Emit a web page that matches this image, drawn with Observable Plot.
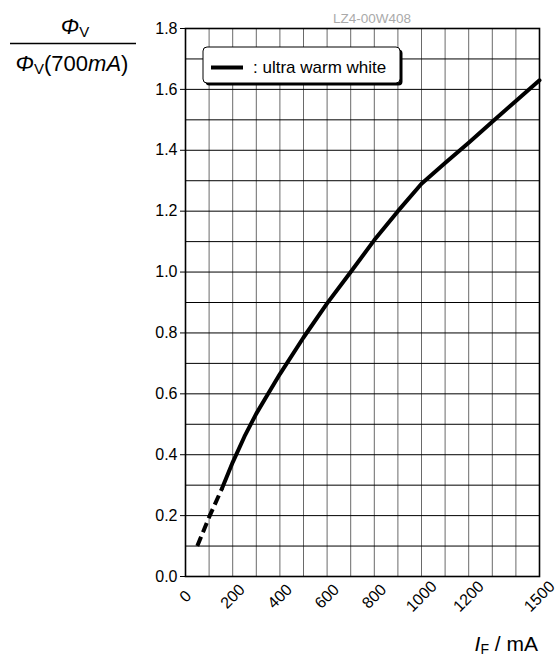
<!DOCTYPE html>
<html>
<head>
<meta charset="utf-8">
<script src="https://cdn.jsdelivr.net/npm/d3@7"></script>
<script src="https://cdn.jsdelivr.net/npm/@observablehq/plot@0.6"></script>
<style>
  html, body { margin: 0; padding: 0; background: #fff; }
  #chart svg { display: block; }
</style>
</head>
<body>
<div id="chart"></div>
<script>
// ---- data ----
const dashCurrent = [50, 100, 155];
const dashFlux    = [0.10, 0.195, 0.29];
const solidCurrent = [155, 200, 250, 300, 350, 400, 500, 600, 700, 800, 900, 1000, 1100, 1200, 1300, 1400, 1500];
const solidFlux    = [0.29, 0.375, 0.46, 0.535, 0.60, 0.665, 0.785, 0.897, 1.00, 1.105, 1.20, 1.29, 1.358, 1.425, 1.494, 1.562, 1.63];
const xTickLabels = [0, 200, 400, 600, 800, 1000, 1200, 1500];
const yTickLabels = [0, 0.2, 0.4, 0.6, 0.8, 1.0, 1.2, 1.4, 1.6, 1.8];
const xGridLines = [0, 100, 200, 300, 400, 500, 600, 700, 800, 900, 1000, 1100, 1200, 1300, 1400, 1500];
const yGridLines = [0, 0.1, 0.2, 0.3, 0.4, 0.5, 0.6, 0.7, 0.8, 0.9, 1.0, 1.1, 1.2, 1.3, 1.4, 1.5, 1.6, 1.7, 1.8];
const seriesName = ": ultra warm white";
const chartTitle = "LZ4-00W408";

const dashData = dashCurrent.map((x, i) => ({x, y: dashFlux[i]}));
const solidData = solidCurrent.map((x, i) => ({x, y: solidFlux[i]}));

const font = "'Liberation Sans', Arial, Helvetica, sans-serif";

const chart = Plot.plot({
  width: 559,
  height: 659,
  marginLeft: 185,
  marginRight: 20,
  marginTop: 28,
  marginBottom: 83,
  x: {domain: [0, 1500]},
  y: {domain: [0, 1.8]},
  style: {fontFamily: font, fontSize: "16px", background: "white", color: "black"},
  marks: [
    Plot.gridX(xGridLines, {stroke: "#6a6a6a", strokeOpacity: 1, strokeWidth: 1}),
    Plot.gridY(yGridLines, {stroke: "#000", strokeOpacity: 1, strokeWidth: 1}),
    Plot.axisY(yTickLabels, {tickFormat: d => d.toFixed(1), tickSize: 5, tickPadding: 3, fontSize: 16, label: null}),
    Plot.axisX(xTickLabels, {tickSize: 0, tickPadding: 20, tickRotate: -45, textAnchor: "middle", lineAnchor: "middle", fontSize: 16, label: null, tickFormat: d => String(d)}),
    Plot.line(dashData, {x: "x", y: "y", stroke: "black", strokeWidth: 4, strokeDasharray: "10,5", strokeLinecap: "butt"}),
    Plot.line(solidData, {x: "x", y: "y", stroke: "black", strokeWidth: 4, strokeLinejoin: "round"}),
    Plot.frame({stroke: "black", strokeWidth: 1.6})
  ]
});

document.getElementById("chart").appendChild(chart);

const svg = d3.select(chart);

// title
svg.append("text")
  .attr("x", 372).attr("y", 23)
  .attr("text-anchor", "middle")
  .attr("font-family", font).attr("font-size", 13.5)
  .attr("fill", "#aaaaaa")
  .text(chartTitle);

// legend
const lg = svg.append("g").attr("text-anchor", "start");
lg.append("rect").attr("x", 205.5).attr("y", 49.5).attr("width", 197).attr("height", 36).attr("rx", 4).attr("fill", "black");
lg.append("rect").attr("x", 203).attr("y", 47).attr("width", 197).attr("height", 36).attr("rx", 4)
  .attr("fill", "white").attr("stroke", "black").attr("stroke-width", 1);
lg.append("line").attr("x1", 211).attr("x2", 243).attr("y1", 67.5).attr("y2", 67.5)
  .attr("stroke", "black").attr("stroke-width", 4);
lg.append("text").attr("x", 253).attr("y", 73).attr("text-anchor", "start")
  .attr("font-family", font).attr("font-size", 17).text(seriesName);

// y label as fraction
const yl = svg.append("g").attr("font-family", font).attr("font-size", 22).attr("text-anchor", "middle");
const num = yl.append("text").attr("x", 75).attr("y", 34);
num.append("tspan").attr("font-style", "italic").text("Φ");
num.append("tspan").attr("font-size", 15).attr("dy", 3).text("V");
yl.append("line").attr("x1", 10).attr("x2", 136).attr("y1", 43.5).attr("y2", 43.5)
  .attr("stroke", "black").attr("stroke-width", 1.3);
const den = yl.append("text").attr("x", 72).attr("y", 71);
den.append("tspan").attr("font-style", "italic").text("Φ");
den.append("tspan").attr("font-size", 15).attr("dy", 3).text("V");
den.append("tspan").attr("dy", -3).text("(700");
den.append("tspan").attr("font-style", "italic").text("mA");
den.append("tspan").text(")");

// x label
const xl = svg.append("text").attr("x", 538).attr("y", 651)
  .attr("text-anchor", "end").attr("font-family", font).attr("font-size", 21);
xl.append("tspan").attr("font-style", "italic").text("I");
xl.append("tspan").attr("font-size", 14).attr("dy", 3).text("F");
xl.append("tspan").attr("dy", -3).text(" / mA");
</script>
</body>
</html>
